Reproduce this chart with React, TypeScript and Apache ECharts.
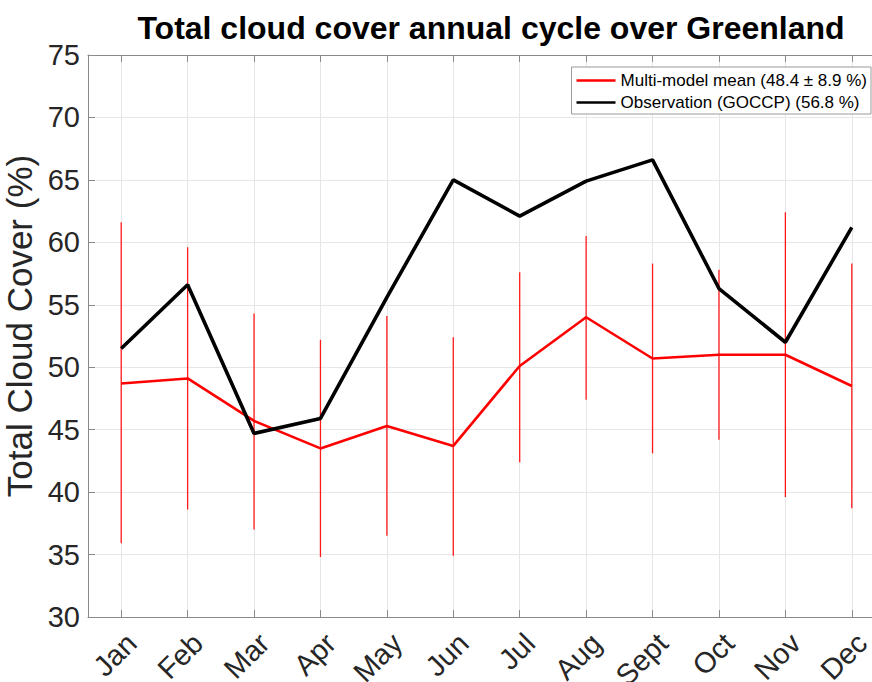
import React, { useEffect, useRef } from "react";
import * as echarts from "echarts";

const months = ["Jan", "Feb", "Mar", "Apr", "May", "Jun", "Jul", "Aug", "Sept", "Oct", "Nov", "Dec"];
const obsValues = [51.5, 56.6, 44.7, 45.9, 55.6, 65.0, 62.1, 64.9, 66.6, 56.3, 52.0, 61.2];
const meanValues = [48.7, 49.1, 45.7, 43.5, 45.3, 43.7, 50.1, 54.0, 50.7, 51.0, 51.0, 48.5];
const errLow = [35.9, 38.6, 37.0, 34.8, 36.5, 34.9, 42.4, 47.4, 43.1, 44.2, 39.6, 38.7];
const errHigh = [61.6, 59.6, 54.3, 52.2, 54.1, 52.4, 57.6, 60.5, 58.3, 57.8, 62.4, 58.3];
const meanName = "Multi-model mean (48.4 \u00b1 8.9 %)";
const obsName = "Observation (GOCCP) (56.8 %)";
const titleText = "Total cloud cover annual cycle over Greenland";
const yName = "Total Cloud Cover (%)";

const FONT = "'Liberation Sans', Arial, Helvetica, sans-serif";
const AXIS_GRAY = "#8a8a8a";
const GRID_GRAY = "#e6e6e6";
const TEXT = "#262626";
const CHART_W = 885;

export default function App() {
  const ref = useRef<HTMLDivElement>(null);
  useEffect(() => {
    if (!ref.current) return;
    const chart = echarts.init(ref.current, undefined, { renderer: "svg" });
    const errData = months.map((_, i) => [i, errLow[i], errHigh[i]]);
    chart.setOption({
      animation: false,
      backgroundColor: "#ffffff",
      textStyle: { fontFamily: FONT },
      title: {
        text: titleText,
        left: 486,
        top: 7,
        textAlign: "center",
        textStyle: { fontFamily: FONT, fontSize: 32, fontWeight: "bold", color: "#000" },
      },
      grid: { left: 88, top: 55, bottom: 65, right: 0, containLabel: false, outerBoundsMode: "none" },
      legend: {
        orient: "vertical",
        right: CHART_W - 871,
        top: 67,
        padding: [5, 4, 3, 5],
        itemGap: 5,
        itemWidth: 39,
        itemHeight: 2.6,
        icon: "rect",
        backgroundColor: "#ffffff",
        borderColor: "#9a9a9a",
        borderWidth: 1,
        textStyle: { fontFamily: FONT, fontSize: 17, color: "#000", lineHeight: 17 },
        data: [meanName, obsName],
      },
      xAxis: [
        {
          type: "category",
          data: months,
          position: "bottom",
          boundaryGap: true,
          axisLine: { show: true, lineStyle: { color: AXIS_GRAY, width: 1 } },
          axisTick: { show: true, inside: true, length: 7, alignWithLabel: true, lineStyle: { color: AXIS_GRAY } },
          splitLine: { show: true, alignWithLabel: true, lineStyle: { color: GRID_GRAY, width: 1 } },
          axisLabel: {
            rotate: 45,
            fontSize: 29,
            color: TEXT,
            fontFamily: FONT,
            margin: 11,
            interval: 0,
            verticalAlign: "top",
            hideOverlap: false,
          },
        },
        {
          type: "category",
          data: months,
          position: "top",
          boundaryGap: true,
          axisLine: { show: true, lineStyle: { color: AXIS_GRAY, width: 1 } },
          axisTick: { show: true, inside: true, length: 7, alignWithLabel: true, lineStyle: { color: AXIS_GRAY } },
          splitLine: { show: false },
          axisLabel: { show: false },
        },
      ],
      yAxis: {
        type: "value",
        min: 30,
        max: 75,
        interval: 5,
        name: yName,
        nameLocation: "middle",
        nameGap: 42,
        nameTextStyle: { fontSize: 35, color: TEXT, fontFamily: FONT, padding: [0, 0, 0, 20] },
        axisLine: { show: true, lineStyle: { color: AXIS_GRAY, width: 1 } },
        axisTick: { show: true, inside: true, length: 7, lineStyle: { color: AXIS_GRAY } },
        splitLine: { show: true, lineStyle: { color: GRID_GRAY, width: 1 } },
        axisLabel: { fontSize: 29, color: TEXT, fontFamily: FONT, margin: 8 },
      },
      series: [
        {
          type: "custom",
          name: "errorbars",
          xAxisIndex: 0,
          data: errData,
          encode: { x: 0, y: [1, 2] },
          z: 2,
          silent: true,
          renderItem: (params: any, api: any) => {
            const p1 = api.coord([api.value(0), api.value(1)]);
            const p2 = api.coord([api.value(0), api.value(2)]);
            return {
              type: "line",
              shape: { x1: p1[0], y1: p1[1], x2: p2[0], y2: p2[1] },
              style: { stroke: "#ff1a1a", lineWidth: 1.3 },
            };
          },
        },
        {
          type: "line",
          name: meanName,
          data: meanValues,
          symbol: "none",
          z: 3,
          color: "#ff0000",
          lineStyle: { color: "#ff0000", width: 2.6 },
        },
        {
          type: "line",
          name: obsName,
          data: obsValues,
          symbol: "none",
          z: 4,
          color: "#000000",
          lineStyle: { color: "#000000", width: 3.6 },
        },
      ],
    });
    return () => chart.dispose();
  }, []);
  return (
    <div style={{ position: "absolute", left: 0, top: 0, width: 872, height: 682, overflow: "hidden" }}>
      <div ref={ref} style={{ width: CHART_W, height: 682 }} />
    </div>
  );
}
